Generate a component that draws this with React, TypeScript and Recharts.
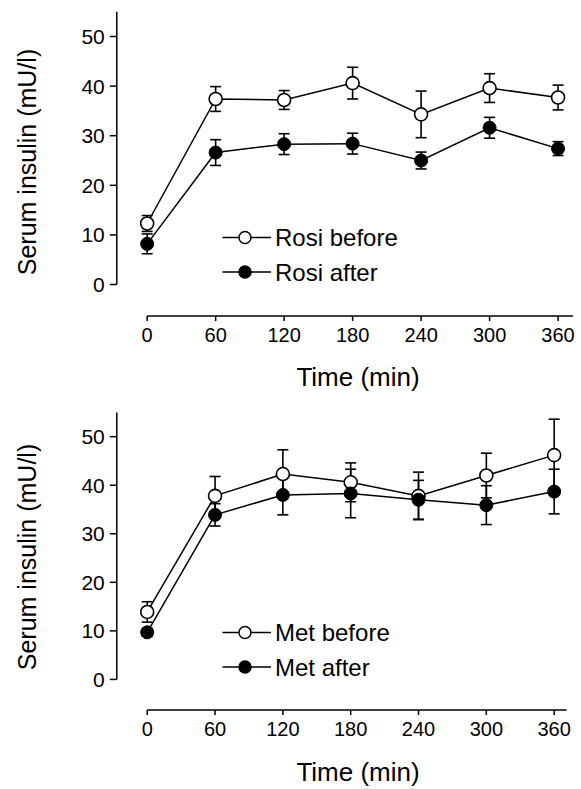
import React from 'react';
import { LineChart, Line, XAxis, YAxis, ErrorBar, ReferenceLine, Legend } from 'recharts';

const times = [0, 60, 120, 180, 240, 300, 360];
const xTicks = [0, 60, 120, 180, 240, 300, 360];
const yTicks = [0, 10, 20, 30, 40, 50];

const rosiBefore = [12.3, 37.4, 37.2, 40.6, 34.3, 39.6, 37.7];
const rosiBeforeErr = [1.6, 2.5, 1.9, 3.2, 4.7, 2.9, 2.5];
const rosiAfter = [8.2, 26.6, 28.3, 28.4, 25.0, 31.6, 27.4];
const rosiAfterErr = [2.0, 2.6, 2.1, 2.1, 1.7, 2.1, 1.4];

const metBefore = [13.9, 37.8, 42.3, 40.6, 37.8, 42.0, 46.2];
const metBeforeErr = [2.1, 4.0, 5.0, 4.0, 4.9, 4.6, 7.4];
const metAfter = [9.7, 33.9, 38.0, 38.3, 37.0, 35.9, 38.7];
const metAfterErr = [0.8, 2.3, 4.1, 5.0, 4.0, 4.0, 4.6];

const FONT = "'Liberation Sans', Arial, Helvetica, sans-serif";

type PanelProps = {
  before: number[];
  beforeErr: number[];
  after: number[];
  afterErr: number[];
  labelBefore: string;
  labelAfter: string;
  height: number;
  marginTop: number;
  marginRight: number;
  xDomain: [number, number];
  yDomain: [number, number];
};

function XTick(props: any) {
  const { x, y, payload } = props;
  return (
    <text x={x} y={y} dy="0.71em" textAnchor="middle" fontSize={20} fontFamily={FONT} fill="#000">
      {payload.value}
    </text>
  );
}

function YTick(props: any) {
  const { x, y, payload } = props;
  return (
    <text x={x} y={y} dy="0.36em" textAnchor="end" fontSize={21} fontFamily={FONT} fill="#000">
      {payload.value}
    </text>
  );
}

function LegendBox({ labelBefore, labelAfter }: { labelBefore: string; labelAfter: string }) {
  const rows = [
    { label: labelBefore, fill: '#fff', y: 22.5 },
    { label: labelAfter, fill: '#000', y: 57 },
  ];
  return (
    <svg width={200} height={75} style={{ overflow: 'visible' }}>
      {rows.map((r) => (
        <g key={r.label}>
          <line x1={7.5} y1={r.y} x2={56} y2={r.y} stroke="#000" strokeWidth={1.5} />
          <circle cx={30} cy={r.y} r={6} fill={r.fill} stroke="#000" strokeWidth={1.5} />
          <text x={60} y={r.y + 8.5} fontSize={24} fontFamily={FONT} fill="#000">
            {r.label}
          </text>
        </g>
      ))}
    </svg>
  );
}

function Panel(p: PanelProps) {
  const data = times.map((t, i) => ({
    t,
    before: p.before[i],
    beforeErr: p.beforeErr[i],
    after: p.after[i],
    afterErr: p.afterErr[i],
  }));
  const [xMin, xMax] = p.xDomain;
  const [yMin, yMax] = p.yDomain;
  const yAxisWidth = 80;
  const plotLeft = 116.8;
  return (
    <LineChart
      width={581}
      height={p.height}
      data={data}
      margin={{ top: p.marginTop, right: p.marginRight, left: plotLeft - yAxisWidth, bottom: 0 }}
    >
      <XAxis
        type="number"
        dataKey="t"
        domain={p.xDomain}
        ticks={xTicks}
        interval={0}
        axisLine={false}
        tickLine={{ stroke: '#000', strokeWidth: 1.5 }}
        tickSize={5}
        tickMargin={7}
        height={79}
        tick={<XTick />}
        label={() => (
          <text x={358} y={386} textAnchor="middle" fontSize={26} fontFamily={FONT} fill="#000">
            Time (min)
          </text>
        )}
      />
      <YAxis
        type="number"
        domain={p.yDomain}
        ticks={yTicks}
        interval={0}
        axisLine={false}
        tickLine={{ stroke: '#000', strokeWidth: 1.5 }}
        tickSize={7}
        tickMargin={5}
        width={yAxisWidth}
        tick={<YTick />}
        label={() => (
          <text
            x={27}
            y={162}
            transform="rotate(-90, 27, 162)"
            textAnchor="middle"
            dominantBaseline="central"
            fontSize={25}
            fontFamily={FONT}
            fill="#000"
          >
            Serum insulin (mU/l)
          </text>
        )}
      />
      <ReferenceLine
        segment={[{ x: 0, y: yMin }, { x: xMax, y: yMin }]}
        stroke="#000"
        strokeWidth={1.5}
        ifOverflow="visible"
      />
      <ReferenceLine
        segment={[{ x: xMin, y: 0 }, { x: xMin, y: yMax }]}
        stroke="#000"
        strokeWidth={1.5}
        ifOverflow="visible"
      />
      <Line
        dataKey="before"
        name={p.labelBefore}
        stroke="#000"
        strokeWidth={1.5}
        isAnimationActive={false}
        dot={{ r: 6.5, fill: '#fff', stroke: '#000', strokeWidth: 1.6 }}
        activeDot={false}
      >
        <ErrorBar dataKey="beforeErr" width={5.5} stroke="#000" strokeWidth={1.6} direction="y" isAnimationActive={false} />
      </Line>
      <Line
        dataKey="after"
        name={p.labelAfter}
        stroke="#000"
        strokeWidth={1.5}
        isAnimationActive={false}
        dot={{ r: 6.5, fill: '#000', stroke: '#000', strokeWidth: 1 }}
        activeDot={false}
      >
        <ErrorBar dataKey="afterErr" width={5.5} stroke="#000" strokeWidth={1.6} direction="y" isAnimationActive={false} />
      </Line>
      <Legend
        layout="horizontal"
        verticalAlign="middle"
        align="center"
        wrapperStyle={{ position: 'absolute', left: 215, top: 215, width: 200, height: 75 }}
        content={() => <LegendBox labelBefore={p.labelBefore} labelAfter={p.labelAfter} />}
      />
    </LineChart>
  );
}

export default function App() {
  return (
    <div style={{ position: 'absolute', left: 0, top: 0, width: 581, height: 789, background: '#fff' }}>
      <div style={{ position: 'absolute', left: 0, top: 0 }}>
        <Panel
          before={rosiBefore}
          beforeErr={rosiBeforeErr}
          after={rosiAfter}
          afterErr={rosiAfterErr}
          labelBefore="Rosi before"
          labelAfter="Rosi after"
          height={395}
          marginTop={11.7}
          marginRight={8.1}
          xDomain={[-26.6, 373]}
          yDomain={[-6.35, 55]}
        />
      </div>
      <div style={{ position: 'absolute', left: 0, top: 395 }}>
        <Panel
          before={metBefore}
          beforeErr={metBeforeErr}
          after={metAfter}
          afterErr={metAfterErr}
          labelBefore="Met before"
          labelAfter="Met after"
          height={394}
          marginTop={17.4}
          marginRight={14.4}
          xDomain={[-26.9, 371]}
          yDomain={[-6.3, 55]}
        />
      </div>
    </div>
  );
}
